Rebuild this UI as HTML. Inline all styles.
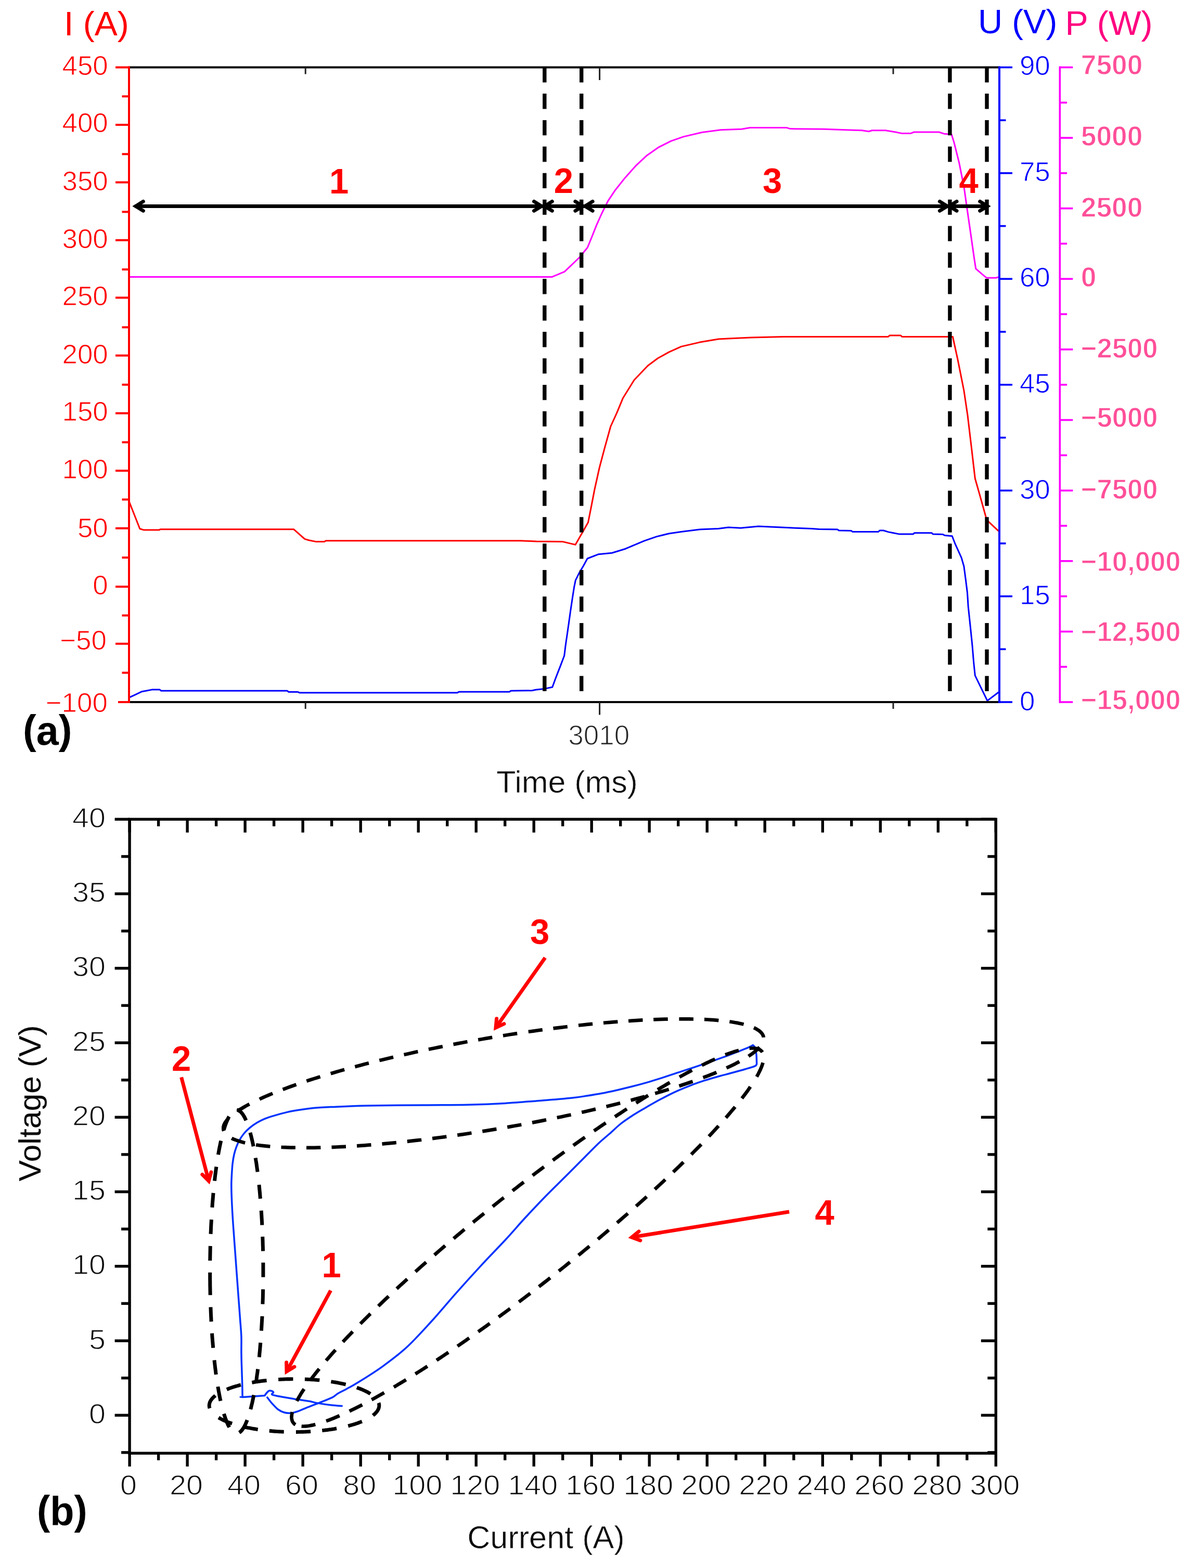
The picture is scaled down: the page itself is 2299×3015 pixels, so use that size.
<!DOCTYPE html>
<html lang="en"><head><meta charset="utf-8"><title>Figure</title>
<style>
html,body{margin:0;padding:0;background:#fff;}
svg{display:block;font-family:"Liberation Sans",sans-serif;filter:blur(0.5px);}
</style></head><body>
<svg xmlns="http://www.w3.org/2000/svg" width="2299" height="3015" viewBox="0 0 2299 3015">
<rect width="2299" height="3015" fill="#fff"/>
<g id="chart-a">
<polyline points="248.0,532.4 1061.4,532.4 1085.2,522.4 1113.8,495.0 1129.3,476.0 1137.6,455.7 1147.1,431.9 1156.7,410.5 1168.6,386.7 1182.9,365.2 1201.9,341.4 1223.3,317.6 1242.4,299.8 1266.2,283.1 1290.0,271.2 1313.8,262.9 1349.5,254.5 1385.2,249.8 1425.7,248.2 1441.8,245.6 1512.5,245.6 1518.9,247.6 1583.2,248.2 1625.0,249.8 1657.1,250.8 1670.0,252.7 1676.4,250.8 1702.1,250.8 1721.4,254.0 1734.3,256.6 1750.3,256.6 1756.8,254.0 1805.0,254.0 1814.6,257.2 1829.1,258.5 1833.9,273.9 1843.6,312.5 1853.2,360.7 1859.6,405.7 1866.1,450.7 1872.5,495.7 1875.7,516.6 1888.6,527.9 1896.6,534.3 1914.3,534.3 1920.0,532.7" fill="none" stroke="#ff00ff" stroke-width="3.0" stroke-linejoin="round" />
<polyline points="247.9,963.6 268.8,1016.7 276.7,1019.1 305.5,1019.1 308.1,1017.8 564.8,1017.8 585.7,1036.4 593.6,1038.7 606.7,1041.4 623.7,1041.4 626.3,1039.8 1000.0,1039.8 1031.0,1041.0 1081.0,1041.4 1106.0,1047.4 1119.0,1024.8 1130.5,1004.5 1136.9,972.4 1142.9,941.4 1152.4,898.6 1161.9,862.9 1173.8,820.0 1185.7,793.8 1197.6,765.2 1219.0,730.7 1245.2,703.3 1264.3,689.0 1285.7,677.1 1309.5,666.4 1345.2,658.1 1381.0,652.1 1400.0,651.0 1444.0,649.0 1506.0,647.4 1707.6,647.4 1710.0,645.0 1731.4,645.0 1733.8,647.4 1831.4,647.4 1841.0,691.4 1852.9,751.0 1860.0,798.6 1867.1,858.1 1874.3,920.0 1883.8,953.3 1895.7,996.2 1900.5,1003.3 1919.5,1021.2" fill="none" stroke="#ff0000" stroke-width="3.0" stroke-linejoin="round" />
<polyline points="249.6,1340.7 272.9,1329.7 281.1,1328.3 292.0,1326.1 307.1,1326.1 309.8,1328.3 552.2,1328.3 554.9,1330.5 572.7,1330.5 575.4,1331.9 879.4,1331.9 882.1,1330.3 979.3,1330.3 982.0,1328.3 1023.1,1327.8 1030.0,1326.3 1046.5,1324.4 1061.8,1321.2 1068.1,1304.0 1077.0,1281.1 1084.7,1260.8 1087.2,1240.5 1090.4,1218.9 1093.5,1197.3 1096.7,1174.4 1100.5,1149.0 1103.7,1128.6 1106.3,1115.9 1113.9,1100.7 1121.5,1088.0 1129.1,1074.0 1150.7,1065.7 1176.2,1063.3 1202.4,1055.2 1238.0,1040.2 1261.9,1031.9 1285.7,1026.0 1309.5,1022.4 1345.2,1018.1 1381.0,1016.4 1400.0,1014.0 1423.8,1015.3 1458.0,1012.0 1512.8,1014.6 1560.0,1016.4 1574.3,1017.6 1610.0,1018.1 1612.4,1020.0 1636.2,1020.5 1638.6,1022.4 1688.6,1022.4 1691.0,1020.0 1698.1,1020.0 1707.6,1022.9 1717.1,1024.8 1729.0,1027.1 1755.2,1027.1 1757.6,1024.8 1791.0,1024.8 1793.3,1027.1 1812.4,1027.6 1816.0,1029.5 1830.2,1030.7 1836.2,1046.2 1848.1,1072.4 1852.9,1089.0 1856.4,1115.2 1859.5,1140.0 1861.2,1166.7 1865.1,1203.3 1869.0,1241.3 1871.7,1274.0 1874.3,1298.9 1897.9,1347.4 1919.5,1331.0" fill="none" stroke="#0000ff" stroke-width="3.0" stroke-linejoin="round" />
<line x1="248.0" y1="129.5" x2="1921.0" y2="129.5" stroke="#000000" stroke-width="4" />
<line x1="248.0" y1="1350.0" x2="1921.0" y2="1350.0" stroke="#000000" stroke-width="4" />
<line x1="587.2" y1="129.5" x2="587.2" y2="142.5" stroke="#222" stroke-width="3" />
<line x1="587.2" y1="1350.0" x2="587.2" y2="1363.0" stroke="#222" stroke-width="3" />
<line x1="1152.6" y1="129.5" x2="1152.6" y2="154.0" stroke="#222" stroke-width="3" />
<line x1="1152.6" y1="1350.0" x2="1152.6" y2="1374.5" stroke="#222" stroke-width="3" />
<line x1="1717.0" y1="129.5" x2="1717.0" y2="142.5" stroke="#222" stroke-width="3" />
<line x1="1717.0" y1="1350.0" x2="1717.0" y2="1363.0" stroke="#222" stroke-width="3" />
<line x1="248.0" y1="127.5" x2="248.0" y2="1352.0" stroke="#ff0000" stroke-width="4" />
<line x1="222.0" y1="129.5" x2="248.0" y2="129.5" stroke="#ff0000" stroke-width="4" />
<text transform="translate(207.7,143.5) scale(1.005,1)" font-size="52.6" fill="#ff0000" text-anchor="end" font-weight="normal"  stroke="#fff" stroke-width="1.0" stroke-linejoin="round">450</text>
<line x1="222.0" y1="240.0" x2="248.0" y2="240.0" stroke="#ff0000" stroke-width="4" />
<text transform="translate(207.7,254.4) scale(1.005,1)" font-size="52.6" fill="#ff0000" text-anchor="end" font-weight="normal"  stroke="#fff" stroke-width="1.0" stroke-linejoin="round">400</text>
<line x1="222.0" y1="350.6" x2="248.0" y2="350.6" stroke="#ff0000" stroke-width="4" />
<text transform="translate(207.7,365.6) scale(1.005,1)" font-size="52.6" fill="#ff0000" text-anchor="end" font-weight="normal"  stroke="#fff" stroke-width="1.0" stroke-linejoin="round">350</text>
<line x1="222.0" y1="461.8" x2="248.0" y2="461.8" stroke="#ff0000" stroke-width="4" />
<text transform="translate(207.7,477.1) scale(1.005,1)" font-size="52.6" fill="#ff0000" text-anchor="end" font-weight="normal"  stroke="#fff" stroke-width="1.0" stroke-linejoin="round">300</text>
<line x1="222.0" y1="572.4" x2="248.0" y2="572.4" stroke="#ff0000" stroke-width="4" />
<text transform="translate(207.7,587.3) scale(1.005,1)" font-size="52.6" fill="#ff0000" text-anchor="end" font-weight="normal"  stroke="#fff" stroke-width="1.0" stroke-linejoin="round">250</text>
<line x1="222.0" y1="683.6" x2="248.0" y2="683.6" stroke="#ff0000" stroke-width="4" />
<text transform="translate(207.7,698.6) scale(1.005,1)" font-size="52.6" fill="#ff0000" text-anchor="end" font-weight="normal"  stroke="#fff" stroke-width="1.0" stroke-linejoin="round">200</text>
<line x1="222.0" y1="794.6" x2="248.0" y2="794.6" stroke="#ff0000" stroke-width="4" />
<text transform="translate(207.7,809.3) scale(1.005,1)" font-size="52.6" fill="#ff0000" text-anchor="end" font-weight="normal"  stroke="#fff" stroke-width="1.0" stroke-linejoin="round">150</text>
<line x1="222.0" y1="905.1" x2="248.0" y2="905.1" stroke="#ff0000" stroke-width="4" />
<text transform="translate(207.7,919.7) scale(1.005,1)" font-size="52.6" fill="#ff0000" text-anchor="end" font-weight="normal"  stroke="#fff" stroke-width="1.0" stroke-linejoin="round">100</text>
<line x1="222.0" y1="1015.8" x2="248.0" y2="1015.8" stroke="#ff0000" stroke-width="4" />
<text transform="translate(207.7,1033.3) scale(1.005,1)" font-size="52.6" fill="#ff0000" text-anchor="end" font-weight="normal"  stroke="#fff" stroke-width="1.0" stroke-linejoin="round">50</text>
<line x1="222.0" y1="1128.1" x2="248.0" y2="1128.1" stroke="#ff0000" stroke-width="4" />
<text transform="translate(207.7,1143.3) scale(1.005,1)" font-size="52.6" fill="#ff0000" text-anchor="end" font-weight="normal"  stroke="#fff" stroke-width="1.0" stroke-linejoin="round">0</text>
<line x1="222.0" y1="1237.8" x2="248.0" y2="1237.8" stroke="#ff0000" stroke-width="4" />
<text transform="translate(204.9,1248.6) scale(1.005,1)" font-size="52.6" fill="#ff0000" text-anchor="end" font-weight="normal"  stroke="#fff" stroke-width="1.0" stroke-linejoin="round">−50</text>
<line x1="227.0" y1="1350.0" x2="248.0" y2="1350.0" stroke="#ff0000" stroke-width="4" />
<text transform="translate(206.8,1369.0) scale(1.005,1)" font-size="52.6" fill="#ff0000" text-anchor="end" font-weight="normal"  stroke="#fff" stroke-width="1.0" stroke-linejoin="round">−100</text>
<line x1="234.5" y1="185.3" x2="248.0" y2="185.3" stroke="#ff0000" stroke-width="4" />
<line x1="234.5" y1="296.3" x2="248.0" y2="296.3" stroke="#ff0000" stroke-width="4" />
<line x1="234.5" y1="407.4" x2="248.0" y2="407.4" stroke="#ff0000" stroke-width="4" />
<line x1="234.5" y1="518.1" x2="248.0" y2="518.1" stroke="#ff0000" stroke-width="4" />
<line x1="234.5" y1="629.3" x2="248.0" y2="629.3" stroke="#ff0000" stroke-width="4" />
<line x1="234.5" y1="739.7" x2="248.0" y2="739.7" stroke="#ff0000" stroke-width="4" />
<line x1="234.5" y1="850.4" x2="248.0" y2="850.4" stroke="#ff0000" stroke-width="4" />
<line x1="234.5" y1="960.5" x2="248.0" y2="960.5" stroke="#ff0000" stroke-width="4" />
<line x1="234.5" y1="1072.1" x2="248.0" y2="1072.1" stroke="#ff0000" stroke-width="4" />
<line x1="234.5" y1="1183.4" x2="248.0" y2="1183.4" stroke="#ff0000" stroke-width="4" />
<line x1="234.5" y1="1293.6" x2="248.0" y2="1293.6" stroke="#ff0000" stroke-width="4" />
<line x1="1921.0" y1="127.5" x2="1921.0" y2="1352.0" stroke="#0000ff" stroke-width="4" />
<line x1="1921.0" y1="129.5" x2="1946.0" y2="129.5" stroke="#0000ff" stroke-width="3.6" />
<line x1="1921.0" y1="231.2" x2="1933.5" y2="231.2" stroke="#0000ff" stroke-width="3.6" />
<line x1="1921.0" y1="332.9" x2="1946.0" y2="332.9" stroke="#0000ff" stroke-width="3.6" />
<line x1="1921.0" y1="434.6" x2="1933.5" y2="434.6" stroke="#0000ff" stroke-width="3.6" />
<line x1="1921.0" y1="536.3" x2="1946.0" y2="536.3" stroke="#0000ff" stroke-width="3.6" />
<line x1="1921.0" y1="638.0" x2="1933.5" y2="638.0" stroke="#0000ff" stroke-width="3.6" />
<line x1="1921.0" y1="739.8" x2="1946.0" y2="739.8" stroke="#0000ff" stroke-width="3.6" />
<line x1="1921.0" y1="841.5" x2="1933.5" y2="841.5" stroke="#0000ff" stroke-width="3.6" />
<line x1="1921.0" y1="943.2" x2="1946.0" y2="943.2" stroke="#0000ff" stroke-width="3.6" />
<line x1="1921.0" y1="1044.9" x2="1933.5" y2="1044.9" stroke="#0000ff" stroke-width="3.6" />
<line x1="1921.0" y1="1146.6" x2="1946.0" y2="1146.6" stroke="#0000ff" stroke-width="3.6" />
<line x1="1921.0" y1="1248.3" x2="1933.5" y2="1248.3" stroke="#0000ff" stroke-width="3.6" />
<line x1="1921.0" y1="1350.0" x2="1946.0" y2="1350.0" stroke="#0000ff" stroke-width="3.6" />
<text transform="translate(1959.9,143.9) scale(1.005,1)" font-size="52.6" fill="#0000ff" text-anchor="start" font-weight="normal"  stroke="#fff" stroke-width="1.0" stroke-linejoin="round">90</text>
<text transform="translate(1959.9,347.5) scale(1.005,1)" font-size="52.6" fill="#0000ff" text-anchor="start" font-weight="normal"  stroke="#fff" stroke-width="1.0" stroke-linejoin="round">75</text>
<text transform="translate(1959.9,550.9) scale(1.005,1)" font-size="52.6" fill="#0000ff" text-anchor="start" font-weight="normal"  stroke="#fff" stroke-width="1.0" stroke-linejoin="round">60</text>
<text transform="translate(1959.9,754.6) scale(1.005,1)" font-size="52.6" fill="#0000ff" text-anchor="start" font-weight="normal"  stroke="#fff" stroke-width="1.0" stroke-linejoin="round">45</text>
<text transform="translate(1959.9,958.9) scale(1.005,1)" font-size="52.6" fill="#0000ff" text-anchor="start" font-weight="normal"  stroke="#fff" stroke-width="1.0" stroke-linejoin="round">30</text>
<text transform="translate(1959.9,1162.1) scale(1.005,1)" font-size="52.6" fill="#0000ff" text-anchor="start" font-weight="normal"  stroke="#fff" stroke-width="1.0" stroke-linejoin="round">15</text>
<text transform="translate(1959.9,1365.6) scale(1.005,1)" font-size="52.6" fill="#0000ff" text-anchor="start" font-weight="normal"  stroke="#fff" stroke-width="1.0" stroke-linejoin="round">0</text>
<line x1="2037.3" y1="127.5" x2="2037.3" y2="1352.0" stroke="#ff00ff" stroke-width="3.6" />
<line x1="2037.3" y1="129.5" x2="2062.3" y2="129.5" stroke="#ff00ff" stroke-width="3.6" />
<line x1="2037.3" y1="197.3" x2="2051.1" y2="197.3" stroke="#ff00ff" stroke-width="3.6" />
<line x1="2037.3" y1="265.1" x2="2062.3" y2="265.1" stroke="#ff00ff" stroke-width="3.6" />
<line x1="2037.3" y1="332.9" x2="2051.1" y2="332.9" stroke="#ff00ff" stroke-width="3.6" />
<line x1="2037.3" y1="400.7" x2="2062.3" y2="400.7" stroke="#ff00ff" stroke-width="3.6" />
<line x1="2037.3" y1="468.5" x2="2051.1" y2="468.5" stroke="#ff00ff" stroke-width="3.6" />
<line x1="2037.3" y1="536.3" x2="2062.3" y2="536.3" stroke="#ff00ff" stroke-width="3.6" />
<line x1="2037.3" y1="604.1" x2="2051.1" y2="604.1" stroke="#ff00ff" stroke-width="3.6" />
<line x1="2037.3" y1="671.9" x2="2062.3" y2="671.9" stroke="#ff00ff" stroke-width="3.6" />
<line x1="2037.3" y1="739.8" x2="2051.1" y2="739.8" stroke="#ff00ff" stroke-width="3.6" />
<line x1="2037.3" y1="807.6" x2="2062.3" y2="807.6" stroke="#ff00ff" stroke-width="3.6" />
<line x1="2037.3" y1="875.4" x2="2051.1" y2="875.4" stroke="#ff00ff" stroke-width="3.6" />
<line x1="2037.3" y1="943.2" x2="2062.3" y2="943.2" stroke="#ff00ff" stroke-width="3.6" />
<line x1="2037.3" y1="1011.0" x2="2051.1" y2="1011.0" stroke="#ff00ff" stroke-width="3.6" />
<line x1="2037.3" y1="1078.8" x2="2062.3" y2="1078.8" stroke="#ff00ff" stroke-width="3.6" />
<line x1="2037.3" y1="1146.6" x2="2051.1" y2="1146.6" stroke="#ff00ff" stroke-width="3.6" />
<line x1="2037.3" y1="1214.4" x2="2062.3" y2="1214.4" stroke="#ff00ff" stroke-width="3.6" />
<line x1="2037.3" y1="1282.2" x2="2051.1" y2="1282.2" stroke="#ff00ff" stroke-width="3.6" />
<line x1="2037.3" y1="1350.0" x2="2062.3" y2="1350.0" stroke="#ff00ff" stroke-width="3.6" />
<text transform="translate(2077.8,142.5) scale(1.01,1)" font-size="52.8" fill="#ff4f99" text-anchor="start" font-weight="bold"  stroke="#fff" stroke-width="1.3" stroke-linejoin="round">7500</text>
<text transform="translate(2077.8,280.4) scale(1.01,1)" font-size="52.8" fill="#ff4f99" text-anchor="start" font-weight="bold"  stroke="#fff" stroke-width="1.3" stroke-linejoin="round">5000</text>
<text transform="translate(2077.8,417.1) scale(1.01,1)" font-size="52.8" fill="#ff4f99" text-anchor="start" font-weight="bold"  stroke="#fff" stroke-width="1.3" stroke-linejoin="round">2500</text>
<text transform="translate(2077.8,550.9) scale(1.01,1)" font-size="52.8" fill="#ff4f99" text-anchor="start" font-weight="bold"  stroke="#fff" stroke-width="1.3" stroke-linejoin="round">0</text>
<text transform="translate(2077.8,687.7) scale(0.997,1)" font-size="52.8" fill="#ff4f99" text-anchor="start" font-weight="bold"  stroke="#fff" stroke-width="1.3" stroke-linejoin="round">−2500</text>
<text transform="translate(2077.8,821.1) scale(0.997,1)" font-size="52.8" fill="#ff4f99" text-anchor="start" font-weight="bold"  stroke="#fff" stroke-width="1.3" stroke-linejoin="round">−5000</text>
<text transform="translate(2077.8,958.5) scale(0.997,1)" font-size="52.8" fill="#ff4f99" text-anchor="start" font-weight="bold"  stroke="#fff" stroke-width="1.3" stroke-linejoin="round">−7500</text>
<text transform="translate(2077.8,1098.3) scale(0.997,1)" font-size="52.8" fill="#ff4f99" text-anchor="start" font-weight="bold"  stroke="#fff" stroke-width="1.3" stroke-linejoin="round">−10,000</text>
<text transform="translate(2077.8,1232.7) scale(0.997,1)" font-size="52.8" fill="#ff4f99" text-anchor="start" font-weight="bold"  stroke="#fff" stroke-width="1.3" stroke-linejoin="round">−12,500</text>
<text transform="translate(2077.8,1363.5) scale(0.997,1)" font-size="52.8" fill="#ff4f99" text-anchor="start" font-weight="bold"  stroke="#fff" stroke-width="1.3" stroke-linejoin="round">−15,000</text>
<text transform="translate(123.0,68.2) scale(1.033,1)" font-size="64" fill="#ff0000" text-anchor="start" font-weight="normal" >I (A)</text>
<text transform="translate(1880.0,64.0) scale(1.02,1)" font-size="64" fill="#0000ff" text-anchor="start" font-weight="normal" >U (V)</text>
<text transform="translate(2047.5,67.3) scale(1.03,1)" font-size="64.3" fill="#ff0080" text-anchor="start" font-weight="normal" >P (W)</text>
<line x1="1046.8" y1="129.2" x2="1046.8" y2="1330.0" stroke="#000000" stroke-width="7.4" stroke-dasharray="29.3 21.59"/>
<line x1="1117.7" y1="129.2" x2="1117.7" y2="1330.0" stroke="#000000" stroke-width="7.4" stroke-dasharray="29.3 21.59"/>
<line x1="1825.9" y1="129.2" x2="1825.9" y2="1330.0" stroke="#000000" stroke-width="7.4" stroke-dasharray="29.3 21.59"/>
<line x1="1897.0" y1="129.2" x2="1897.0" y2="1330.0" stroke="#000000" stroke-width="7.4" stroke-dasharray="29.3 21.59"/>
<line x1="259.3" y1="396.4" x2="1899.7" y2="396.4" stroke="#000000" stroke-width="7" />
<polyline points="275.3,387.4 260.9,396.4 275.3,405.4" fill="none" stroke="#000000" stroke-width="7" stroke-linecap="round" stroke-linejoin="miter"/>
<polyline points="1026.5,387.4 1040.9,396.4 1026.5,405.4" fill="none" stroke="#000000" stroke-width="7" stroke-linecap="round" stroke-linejoin="miter"/>
<polyline points="1061.3,387.4 1046.9,396.4 1061.3,405.4" fill="none" stroke="#000000" stroke-width="7" stroke-linecap="round" stroke-linejoin="miter"/>
<polyline points="1105.9,387.4 1120.3,396.4 1105.9,405.4" fill="none" stroke="#000000" stroke-width="7" stroke-linecap="round" stroke-linejoin="miter"/>
<polyline points="1139.1,387.4 1124.7,396.4 1139.1,405.4" fill="none" stroke="#000000" stroke-width="7" stroke-linecap="round" stroke-linejoin="miter"/>
<polyline points="1806.4,387.4 1820.8,396.4 1806.4,405.4" fill="none" stroke="#000000" stroke-width="7" stroke-linecap="round" stroke-linejoin="miter"/>
<polyline points="1839.0,387.4 1824.6,396.4 1839.0,405.4" fill="none" stroke="#000000" stroke-width="7" stroke-linecap="round" stroke-linejoin="miter"/>
<polyline points="1883.7,387.4 1898.1,396.4 1883.7,405.4" fill="none" stroke="#000000" stroke-width="7" stroke-linecap="round" stroke-linejoin="miter"/>
<text transform="translate(651.7,371.6) scale(0.97,1)" font-size="69" fill="#ff0000" text-anchor="middle" font-weight="bold" font-family="Liberation Sans">1</text>
<text transform="translate(1083.4,371.4) scale(0.97,1)" font-size="69" fill="#ff0000" text-anchor="middle" font-weight="bold" font-family="Liberation Sans">2</text>
<text transform="translate(1484.7,371.4) scale(0.97,1)" font-size="69" fill="#ff0000" text-anchor="middle" font-weight="bold" font-family="Liberation Sans">3</text>
<text transform="translate(1862.1,371.4) scale(0.97,1)" font-size="69" fill="#ff0000" text-anchor="middle" font-weight="bold" font-family="Liberation Sans">4</text>
<text transform="translate(44.0,1432.4) scale(0.99,1)" font-size="78" fill="#000000" text-anchor="start" font-weight="bold" ><tspan dy="-2.3">(</tspan><tspan dy="2.3">a</tspan><tspan dy="-2.3">)</tspan></text>
<text transform="translate(954.2,1524.0) scale(1.015,1)" font-size="60" fill="#0a0a0a" text-anchor="start" font-weight="normal"  stroke="#fff" stroke-width="0.6" stroke-linejoin="round">Time (ms)</text>
<text x="1151.2" y="1431.9" font-size="53" fill="#262626" text-anchor="middle" font-weight="normal"  stroke="#fff" stroke-width="1.3" stroke-linejoin="round">3010</text>
</g>
<g id="chart-b">
<path d="M658.6 2703.6C655.3 2703.3 646.7 2703.0 638.6 2702.1C630.5 2701.2 617.4 2699.2 610.0 2697.9C602.6 2696.6 601.7 2695.6 594.3 2694.3C586.9 2693.0 575.2 2691.6 565.7 2690.0C556.2 2688.4 544.2 2686.4 537.1 2685.0C530.0 2683.6 524.9 2682.9 523.0 2681.6C521.1 2680.3 525.6 2678.5 525.6 2677.4C525.6 2676.3 524.3 2675.3 522.9 2674.8C521.5 2674.3 519.0 2673.6 517.3 2674.2C515.6 2674.8 514.0 2676.9 512.5 2678.5C511.1 2680.1 509.2 2682.8 508.6 2683.6L508.6 2683.6L466.1 2686.4L466.1 2686.4C466.0 2682.5 466.0 2674.0 465.7 2662.9C465.4 2651.8 464.6 2630.5 464.3 2620.0C464.0 2609.5 464.0 2608.4 463.9 2600.0C463.8 2591.6 464.2 2579.8 463.9 2569.8C463.5 2559.8 462.6 2550.8 461.8 2540.0C461.0 2529.2 460.1 2516.7 459.2 2505.0C458.3 2493.3 457.4 2480.8 456.6 2470.0C455.8 2459.2 455.1 2450.0 454.4 2440.0C453.7 2430.0 452.9 2420.0 452.2 2410.0C451.5 2400.0 450.8 2391.7 450.0 2380.0C449.2 2368.3 448.0 2353.3 447.2 2340.0C446.4 2326.7 445.6 2310.8 445.2 2300.0C444.8 2289.2 444.7 2282.5 444.8 2275.0C444.9 2267.5 445.3 2261.3 445.7 2255.0C446.1 2248.7 446.4 2242.9 447.1 2237.1C447.8 2231.3 448.8 2225.2 450.0 2220.0C451.2 2214.8 452.6 2210.2 454.3 2205.7C456.0 2201.2 457.6 2197.2 460.0 2192.9C462.4 2188.6 465.3 2184.1 468.6 2180.0C471.9 2175.9 475.7 2172.2 480.0 2168.6C484.3 2165.0 489.5 2161.5 494.3 2158.6C499.1 2155.7 503.8 2153.4 508.6 2151.4C513.4 2149.4 515.8 2148.5 522.9 2146.4C530.0 2144.3 541.9 2140.7 551.4 2138.6C560.9 2136.5 570.5 2135.0 580.0 2133.6C589.5 2132.2 599.3 2130.8 608.6 2130.0C617.9 2129.2 619.3 2129.3 635.7 2128.6C652.1 2127.9 677.2 2126.6 707.0 2126.0C736.8 2125.4 782.1 2125.3 814.3 2125.0C846.5 2124.7 873.9 2124.9 900.0 2124.3C926.1 2123.7 947.2 2122.8 971.0 2121.4C994.8 2120.0 1021.5 2117.7 1043.0 2116.0C1064.5 2114.3 1085.7 2112.5 1100.0 2111.0C1114.3 2109.5 1119.1 2108.5 1128.6 2107.0C1138.1 2105.5 1147.6 2104.0 1157.1 2102.2C1166.6 2100.4 1176.2 2098.3 1185.7 2096.2C1195.2 2094.0 1204.8 2091.7 1214.3 2089.3C1223.8 2086.9 1233.4 2084.3 1242.9 2081.6C1252.4 2078.9 1261.9 2075.9 1271.4 2072.9C1280.9 2069.9 1290.5 2066.5 1300.0 2063.4C1309.5 2060.3 1318.8 2057.5 1328.6 2054.2C1338.4 2050.9 1348.4 2047.5 1359.0 2043.8C1369.6 2040.1 1382.5 2035.8 1392.4 2032.2C1402.3 2028.6 1411.0 2025.0 1418.6 2022.0C1426.2 2019.0 1433.1 2016.4 1437.9 2014.3C1442.7 2012.2 1445.7 2010.4 1447.3 2009.6L1447.3 2009.6C1448.0 2010.3 1450.1 2011.2 1451.2 2014.0C1452.3 2016.8 1453.2 2021.4 1453.8 2026.7C1454.4 2032.0 1454.5 2042.9 1454.6 2046.1L1454.6 2046.1C1454.0 2046.7 1454.8 2048.2 1451.3 2049.8C1447.8 2051.4 1441.4 2053.2 1433.5 2055.5C1425.6 2057.8 1412.1 2061.5 1403.7 2063.8C1395.3 2066.1 1391.1 2067.0 1382.9 2069.3C1374.7 2071.6 1363.8 2074.6 1354.3 2077.7C1344.8 2080.8 1335.2 2084.1 1325.7 2087.8C1316.2 2091.5 1306.6 2095.4 1297.1 2099.8C1287.6 2104.2 1278.1 2109.2 1268.6 2114.3C1259.1 2119.4 1249.0 2125.2 1240.0 2130.5C1231.0 2135.8 1222.1 2140.9 1214.3 2146.0C1206.5 2151.1 1200.1 2155.3 1192.9 2161.0C1185.8 2166.7 1178.6 2174.0 1171.4 2180.3C1164.2 2186.6 1159.5 2189.9 1150.0 2199.0C1140.5 2208.1 1126.2 2222.9 1114.3 2234.8C1102.4 2246.7 1090.5 2258.6 1078.6 2270.5C1066.7 2282.4 1054.8 2293.9 1042.9 2306.2C1031.0 2318.5 1018.9 2331.4 1007.1 2344.3C995.3 2357.2 985.6 2368.8 972.0 2383.5C958.4 2398.2 941.4 2415.5 925.7 2432.4C910.1 2449.3 894.0 2467.0 878.1 2484.8C862.2 2502.7 846.4 2522.1 830.5 2539.5C814.6 2556.9 798.8 2574.8 782.9 2589.5C767.0 2604.2 751.1 2616.1 735.2 2627.6C719.3 2639.1 699.0 2651.5 687.6 2658.6C676.2 2665.7 673.5 2666.7 667.1 2670.2C660.8 2673.7 654.2 2676.7 649.5 2679.5C644.8 2682.3 644.5 2684.2 638.6 2687.1C632.7 2690.0 622.6 2693.8 614.3 2697.1C606.0 2700.4 595.5 2704.3 588.6 2707.1C581.7 2709.8 577.9 2711.9 572.9 2713.6C567.9 2715.3 563.1 2716.8 558.6 2717.1C554.1 2717.4 549.8 2716.9 545.7 2715.7C541.7 2714.5 538.1 2712.8 534.3 2710.0C530.5 2707.2 525.8 2701.7 522.9 2698.6C520.0 2695.5 518.8 2693.6 517.1 2691.4C515.4 2689.2 513.6 2686.6 512.9 2685.7" fill="none" stroke="#0033ff" stroke-width="3.5" stroke-linejoin="round"/>
<line x1="460.7" y1="2686" x2="466" y2="2686.4" stroke="#0033ff" stroke-width="3"/>
<path d="M1421.3 2041.3 1417.5 2043.3 1413.5 2045.4 1409.4 2047.4 1405.2 2049.5 1400.8 2051.6 1396.2 2053.7 1391.6 2055.8 1386.8 2057.9 1381.8 2060.0 1376.8 2062.2 1371.6 2064.3 1366.3 2066.4 1360.8 2068.6 1355.2 2070.7 1349.5 2072.9 1343.7 2075.0 1337.8 2077.2 1331.7 2079.4 1325.5 2081.5 1319.2 2083.7 1312.8 2085.8 1306.3 2088.0 1299.7 2090.2 1292.9 2092.3 1286.1 2094.5 1279.2 2096.6 1272.1 2098.8 1265.0 2100.9 1257.7 2103.0 1250.4 2105.2 1243.0 2107.3 1235.5 2109.4 1227.9 2111.5 1220.2 2113.6 1212.4 2115.7 1204.6 2117.8 1196.7 2119.9 1188.7 2121.9 1180.6 2124.0 1172.4 2126.0 1164.2 2128.0 1155.9 2130.0 1147.6 2132.0 1139.2 2134.0 1130.7 2136.0 1122.2 2137.9 1113.6 2139.8 1105.0 2141.8 1096.4 2143.7 1087.6 2145.5 1078.9 2147.4 1070.1 2149.2 1061.3 2151.0 1052.4 2152.8 1043.5 2154.6 1034.6 2156.4 1025.6 2158.1 1016.7 2159.8 1007.7 2161.5 998.6 2163.2 989.6 2164.8 980.6 2166.4 971.5 2168.0 962.5 2169.6 953.4 2171.1 944.3 2172.6 935.3 2174.1 926.2 2175.5 917.2 2177.0 908.1 2178.3 899.1 2179.7 890.1 2181.1 881.1 2182.4 872.1 2183.6 863.1 2184.9 854.2 2186.1 845.3 2187.3 836.4 2188.4 827.6 2189.6 818.8 2190.6 810.1 2191.7 801.3 2192.7 792.7 2193.7 784.1 2194.7 775.5 2195.6 767.0 2196.5 758.5 2197.3 750.1 2198.1 741.7 2198.9 733.5 2199.7 725.2 2200.4 717.1 2201.1 709.0 2201.7 701.0 2202.3 693.1 2202.9 685.2 2203.4 677.5 2203.9 669.8 2204.4 662.2 2204.8 654.6 2205.2 647.2 2205.5 639.9 2205.8 632.6 2206.1 625.5 2206.3 618.4 2206.5 611.5 2206.7 604.7 2206.8 597.9 2206.9 591.3 2206.9 584.8 2206.9 578.3 2206.9 572.0 2206.9 565.9 2206.7 559.8 2206.6 553.8 2206.4 548.0 2206.2 542.3 2206.0 536.7 2205.7 531.3 2205.3 525.9 2205.0 520.7 2204.6 515.7 2204.1 510.7 2203.6 505.9 2203.1 501.2 2202.6 496.7 2202.0 492.3 2201.4 488.0 2200.7 483.9 2200.0 479.9 2199.3 476.1 2198.5 472.4 2197.7 468.9 2196.9 465.5 2196.0 462.2 2195.1 459.1 2194.2 456.2 2193.2 453.4 2192.2 450.7 2191.1 448.2 2190.1 445.8 2189.0 443.6 2187.8 441.6 2186.6 439.7 2185.4 438.0 2184.2 436.4 2183.0 435.0 2181.7 433.7 2180.3 432.6 2179.0 431.7 2177.6 430.9 2176.2 430.2 2174.7 429.7 2173.3 429.4 2171.8 429.3 2170.3 429.3 2168.7 429.4 2167.1 429.7 2165.5 430.2 2163.9 430.8 2162.3 431.6 2160.6 432.5 2158.9 433.6 2157.2 434.9 2155.4 436.3 2153.7 437.9 2151.9 439.6 2150.1 441.5 2148.2 443.5 2146.4 445.7 2144.5 448.1 2142.6 450.5 2140.7 453.2 2138.8 456.0 2136.9 458.9 2134.9 462.0 2132.9 465.3 2131.0 468.7 2129.0 472.2 2126.9 475.9 2124.9 479.7 2122.9 483.7 2120.8 487.8 2118.8 492.0 2116.7 496.4 2114.6 501.0 2112.5 505.6 2110.4 510.4 2108.3 515.4 2106.2 520.4 2104.0 525.6 2101.9 530.9 2099.8 536.4 2097.6 542.0 2095.5 547.7 2093.3 553.5 2091.2 559.4 2089.0 565.5 2086.8 571.7 2084.7 578.0 2082.5 584.4 2080.4 590.9 2078.2 597.5 2076.0 604.3 2073.9 611.1 2071.7 618.0 2069.6 625.1 2067.4 632.2 2065.3 639.5 2063.2 646.8 2061.0 654.2 2058.9 661.7 2056.8 669.3 2054.7 677.0 2052.6 684.8 2050.5 692.6 2048.4 700.5 2046.3 708.5 2044.3 716.6 2042.2 724.8 2040.2 733.0 2038.2 741.3 2036.2 749.6 2034.2 758.0 2032.2 766.5 2030.2 775.0 2028.3 783.6 2026.4 792.2 2024.4 800.8 2022.5 809.6 2020.7 818.3 2018.8 827.1 2017.0 835.9 2015.2 844.8 2013.4 853.7 2011.6 862.6 2009.8 871.6 2008.1 880.5 2006.4 889.5 2004.7 898.6 2003.0 907.6 2001.4 916.6 1999.8 925.7 1998.2 934.7 1996.6 943.8 1995.1 952.9 1993.6 961.9 1992.1 971.0 1990.7 980.0 1989.2 989.1 1987.9 998.1 1986.5 1007.1 1985.1 1016.1 1983.8 1025.1 1982.6 1034.1 1981.3 1043.0 1980.1 1051.9 1978.9 1060.8 1977.8 1069.6 1976.6 1078.4 1975.6 1087.1 1974.5 1095.9 1973.5 1104.5 1972.5 1113.1 1971.5 1121.7 1970.6 1130.2 1969.7 1138.7 1968.9 1147.1 1968.1 1155.5 1967.3 1163.7 1966.5 1172.0 1965.8 1180.1 1965.1 1188.2 1964.5 1196.2 1963.9 1204.1 1963.3 1212.0 1962.8 1219.7 1962.3 1227.4 1961.8 1235.0 1961.4 1242.6 1961.0 1250.0 1960.7 1257.3 1960.4 1264.6 1960.1 1271.7 1959.9 1278.8 1959.7 1285.7 1959.5 1292.5 1959.4 1299.3 1959.3 1305.9 1959.3 1312.4 1959.3 1318.9 1959.3 1325.2 1959.3 1331.3 1959.5 1337.4 1959.6 1343.4 1959.8 1349.2 1960.0 1354.9 1960.2 1360.5 1960.5 1365.9 1960.9 1371.3 1961.2 1376.5 1961.6 1381.5 1962.1 1386.5 1962.6 1391.3 1963.1 1396.0 1963.6 1400.5 1964.2 1404.9 1964.8 1409.2 1965.5 1413.3 1966.2 1417.3 1966.9 1421.1 1967.7 1424.8 1968.5 1428.3 1969.3 1431.7 1970.2 1435.0 1971.1 1438.1 1972.0 1441.0 1973.0 1443.8 1974.0 1446.5 1975.1 1449.0 1976.1 1451.4 1977.2 1453.6 1978.4 1455.6 1979.6 1457.5 1980.8 1459.2 1982.0 1460.8 1983.2 1462.2 1984.5 1463.5 1985.9 1464.6 1987.2 1465.5 1988.6 1466.3 1990.0 1467.0 1991.5 1467.5 1992.9 1467.8 1994.4 1467.9 1995.9 1467.9 1997.5 1467.8 1999.1 1467.5 2000.7 1467.0 2002.3 1466.4 2003.9 1465.6 2005.6 1464.7 2007.3 1463.6 2009.0 1462.3 2010.8 1460.9 2012.5 1459.3 2014.3 1457.6 2016.1 1455.7 2018.0 1453.7 2019.8 1451.5 2021.7 1449.1 2023.6 1446.7 2025.5 1444.0 2027.4 1441.2 2029.3 1438.3 2031.3 1435.2 2033.3 1431.9 2035.2 1428.5 2037.2 1425.0 2039.3Z" fill="none" stroke="#000" stroke-width="6.7" stroke-linejoin="round" stroke-dasharray="27.7 20.9 27.7 21.3 27.5 20.8 27.7 20.9 27.5 21.1 27.5 21.1 27.5 21.1 27.5 21.1 27.5 21.1 27.5 21.1 27.5 21.1 27.5 21.1 27.5 21.1 27.5 21.1 27.5 21.1 27.5 21.1 27.5 21.1 27.4 21.1 27.4 21.2 27.4 21.3 27.4 21.2 27.5 21.7 26.9 21.6 27.5 21.0 27.5 21.0 27.5 21.0 27.5 21.0 27.5 21.0 27.5 21.0 27.5 21.0 27.5 21.0 27.5 21.0 27.5 21.0 27.5 21.8 27.3 20.9 27.5 21.4 27.2 21.0 27.5 20.7 27.5 20.7 27.6 21.6 27.6 21.0 27.5 21.1 27.7 20.6 27.6 20.9 27.5 21.1"/>
<path d="M1466.2 2044.6 1465.4 2047.1 1464.5 2049.8 1463.4 2052.5 1462.2 2055.4 1460.9 2058.3 1459.4 2061.3 1457.8 2064.5 1456.1 2067.7 1454.2 2071.0 1452.2 2074.4 1450.1 2078.0 1447.8 2081.6 1445.4 2085.3 1442.8 2089.0 1440.2 2092.9 1437.4 2096.9 1434.4 2100.9 1431.4 2105.0 1428.2 2109.2 1424.9 2113.5 1421.5 2117.9 1417.9 2122.4 1414.2 2126.9 1410.4 2131.5 1406.5 2136.2 1402.4 2141.0 1398.3 2145.8 1394.0 2150.7 1389.6 2155.7 1385.1 2160.7 1380.5 2165.8 1375.7 2171.0 1370.9 2176.2 1366.0 2181.5 1360.9 2186.9 1355.7 2192.3 1350.5 2197.8 1345.1 2203.3 1339.6 2208.9 1334.0 2214.5 1328.4 2220.2 1322.6 2225.9 1316.8 2231.7 1310.8 2237.5 1304.8 2243.4 1298.6 2249.3 1292.4 2255.2 1286.1 2261.2 1279.7 2267.2 1273.3 2273.3 1266.7 2279.4 1260.1 2285.5 1253.4 2291.6 1246.7 2297.8 1239.8 2304.0 1232.9 2310.2 1225.9 2316.5 1218.9 2322.7 1211.8 2329.0 1204.6 2335.3 1197.4 2341.6 1190.1 2347.9 1182.8 2354.2 1175.4 2360.6 1168.0 2366.9 1160.5 2373.3 1153.0 2379.6 1145.5 2385.9 1137.9 2392.3 1130.2 2398.6 1122.5 2405.0 1114.8 2411.3 1107.1 2417.6 1099.3 2423.9 1091.5 2430.2 1083.7 2436.5 1075.9 2442.7 1068.0 2449.0 1060.2 2455.2 1052.3 2461.4 1044.4 2467.5 1036.5 2473.7 1028.6 2479.8 1020.6 2485.9 1012.7 2491.9 1004.8 2497.9 996.9 2503.9 989.0 2509.8 981.1 2515.7 973.2 2521.6 965.3 2527.4 957.4 2533.2 949.6 2538.9 941.8 2544.6 934.0 2550.2 926.2 2555.8 918.4 2561.3 910.7 2566.7 903.0 2572.1 895.3 2577.5 887.7 2582.8 880.1 2588.0 872.6 2593.2 865.1 2598.3 857.6 2603.3 850.2 2608.2 842.9 2613.1 835.5 2617.9 828.3 2622.7 821.1 2627.4 814.0 2632.0 806.9 2636.5 799.9 2640.9 792.9 2645.3 786.1 2649.6 779.2 2653.8 772.5 2657.9 765.8 2661.9 759.3 2665.8 752.7 2669.7 746.3 2673.5 740.0 2677.1 733.7 2680.7 727.5 2684.2 721.4 2687.6 715.4 2690.9 709.5 2694.1 703.7 2697.2 698.0 2700.3 692.3 2703.2 686.8 2706.0 681.4 2708.7 676.0 2711.3 670.8 2713.9 665.7 2716.3 660.7 2718.6 655.8 2720.8 651.0 2722.9 646.3 2724.9 641.7 2726.8 637.2 2728.6 632.9 2730.3 628.6 2731.9 624.5 2733.3 620.5 2734.7 616.7 2736.0 612.9 2737.1 609.3 2738.1 605.8 2739.1 602.4 2739.9 599.1 2740.6 596.0 2741.2 593.0 2741.7 590.1 2742.1 587.4 2742.3 584.7 2742.5 582.3 2742.5 579.9 2742.5 577.7 2742.3 575.6 2742.0 573.6 2741.6 571.8 2741.1 570.1 2740.5 568.6 2739.7 567.2 2738.9 565.9 2738.0 564.7 2736.9 563.7 2735.7 562.9 2734.5 562.1 2733.1 561.5 2731.6 561.1 2730.0 560.8 2728.3 560.6 2726.5 560.5 2724.6 560.6 2722.5 560.9 2720.4 561.2 2718.2 561.7 2715.8 562.4 2713.4 563.2 2710.9 564.1 2708.2 565.2 2705.5 566.4 2702.6 567.7 2699.7 569.2 2696.7 570.8 2693.5 572.5 2690.3 574.4 2687.0 576.4 2683.6 578.5 2680.0 580.8 2676.4 583.2 2672.7 585.8 2669.0 588.4 2665.1 591.2 2661.1 594.2 2657.1 597.2 2653.0 600.4 2648.8 603.7 2644.5 607.1 2640.1 610.7 2635.6 614.4 2631.1 618.2 2626.5 622.1 2621.8 626.2 2617.0 630.3 2612.2 634.6 2607.3 639.0 2602.3 643.5 2597.3 648.1 2592.2 652.9 2587.0 657.7 2581.8 662.6 2576.5 667.7 2571.1 672.9 2565.7 678.1 2560.2 683.5 2554.7 689.0 2549.1 694.6 2543.5 700.2 2537.8 706.0 2532.1 711.8 2526.3 717.8 2520.5 723.8 2514.6 730.0 2508.7 736.2 2502.8 742.5 2496.8 748.9 2490.8 755.3 2484.7 761.9 2478.6 768.5 2472.5 775.2 2466.4 781.9 2460.2 788.8 2454.0 795.7 2447.8 802.7 2441.5 809.7 2435.3 816.8 2429.0 824.0 2422.7 831.2 2416.4 838.5 2410.1 845.8 2403.8 853.2 2397.4 860.6 2391.1 868.1 2384.7 875.6 2378.4 883.1 2372.1 890.7 2365.7 898.4 2359.4 906.1 2353.0 913.8 2346.7 921.5 2340.4 929.3 2334.1 937.1 2327.8 944.9 2321.5 952.7 2315.3 960.6 2309.0 968.4 2302.8 976.3 2296.6 984.2 2290.5 992.1 2284.3 1000.0 2278.2 1008.0 2272.1 1015.9 2266.1 1023.8 2260.1 1031.7 2254.1 1039.6 2248.2 1047.5 2242.3 1055.4 2236.4 1063.3 2230.6 1071.2 2224.8 1079.0 2219.1 1086.8 2213.4 1094.6 2207.8 1102.4 2202.2 1110.2 2196.7 1117.9 2191.3 1125.6 2185.9 1133.3 2180.5 1140.9 2175.2 1148.5 2170.0 1156.0 2164.8 1163.5 2159.7 1171.0 2154.7 1178.4 2149.8 1185.7 2144.9 1193.1 2140.1 1200.3 2135.3 1207.5 2130.6 1214.6 2126.0 1221.7 2121.5 1228.7 2117.1 1235.7 2112.7 1242.5 2108.4 1249.4 2104.2 1256.1 2100.1 1262.8 2096.1 1269.3 2092.2 1275.9 2088.3 1282.3 2084.5 1288.6 2080.9 1294.9 2077.3 1301.1 2073.8 1307.2 2070.4 1313.2 2067.1 1319.1 2063.9 1324.9 2060.8 1330.6 2057.7 1336.3 2054.8 1341.8 2052.0 1347.2 2049.3 1352.6 2046.7 1357.8 2044.1 1362.9 2041.7 1367.9 2039.4 1372.8 2037.2 1377.6 2035.1 1382.3 2033.1 1386.9 2031.2 1391.4 2029.4 1395.7 2027.7 1400.0 2026.1 1404.1 2024.7 1408.1 2023.3 1411.9 2022.0 1415.7 2020.9 1419.3 2019.9 1422.8 2018.9 1426.2 2018.1 1429.5 2017.4 1432.6 2016.8 1435.6 2016.3 1438.5 2015.9 1441.2 2015.7 1443.9 2015.5 1446.3 2015.5 1448.7 2015.5 1450.9 2015.7 1453.0 2016.0 1455.0 2016.4 1456.8 2016.9 1458.5 2017.5 1460.0 2018.3 1461.4 2019.1 1462.7 2020.0 1463.9 2021.1 1464.9 2022.3 1465.7 2023.5 1466.5 2024.9 1467.1 2026.4 1467.5 2028.0 1467.8 2029.7 1468.0 2031.5 1468.1 2033.4 1468.0 2035.5 1467.7 2037.6 1467.4 2039.8 1466.9 2042.2Z" fill="none" stroke="#000" stroke-width="6.7" stroke-linejoin="round" stroke-dasharray="28.3 22.9 27.6 20.9 27.4 21.1 27.4 21.1 27.4 21.1 27.4 21.1 27.4 21.1 27.4 21.1 27.4 21.1 27.4 21.1 27.4 21.1 27.4 21.1 27.4 21.1 27.4 21.1 27.4 21.1 27.4 21.1 27.4 21.1 27.4 21.1 27.4 21.1 27.5 21.4 27.6 20.5 27.5 21.0 27.6 21.8 27.0 12.1 26.9 23.0 27.1 21.1 27.4 20.7 27.3 21.1 27.3 20.9 27.5 21.1 27.4 21.2 27.4 21.2 27.4 21.2 27.4 21.2 27.4 21.2 27.4 21.2 27.4 21.2 27.4 21.2 27.4 21.2 27.4 21.2 27.4 21.2 27.4 21.2 27.4 21.2 27.4 21.2 27.2 21.4 27.4 21.2 27.8 21.5 27.3 20.9 27.4 20.7"/>
<path d="M695.8 2733.2 694.1 2733.9 692.3 2734.6 690.5 2735.3 688.7 2736.0 686.8 2736.7 684.8 2737.3 682.9 2738.0 680.9 2738.6 678.8 2739.2 676.8 2739.8 674.7 2740.4 672.5 2741.0 670.4 2741.6 668.2 2742.2 665.9 2742.7 663.7 2743.3 661.4 2743.8 659.1 2744.3 656.7 2744.8 654.3 2745.3 651.9 2745.8 649.5 2746.2 647.0 2746.7 644.6 2747.1 642.1 2747.6 639.5 2748.0 637.0 2748.4 634.4 2748.7 631.8 2749.1 629.2 2749.5 626.6 2749.8 623.9 2750.1 621.2 2750.4 618.5 2750.7 615.8 2751.0 613.1 2751.3 610.4 2751.5 607.6 2751.8 604.9 2752.0 602.1 2752.2 599.3 2752.4 596.5 2752.6 593.7 2752.7 590.9 2752.9 588.1 2753.0 585.3 2753.1 582.4 2753.2 579.6 2753.3 576.8 2753.4 573.9 2753.4 571.1 2753.5 568.2 2753.5 565.4 2753.5 562.5 2753.5 559.7 2753.5 556.8 2753.4 554.0 2753.4 551.1 2753.3 548.3 2753.2 545.5 2753.1 542.6 2753.0 539.8 2752.9 537.0 2752.7 534.2 2752.6 531.4 2752.4 528.6 2752.2 525.9 2752.0 523.1 2751.8 520.4 2751.5 517.6 2751.3 514.9 2751.0 512.2 2750.7 509.5 2750.4 506.9 2750.1 504.2 2749.8 501.6 2749.4 499.0 2749.1 496.4 2748.7 493.8 2748.3 491.3 2747.9 488.7 2747.5 486.2 2747.1 483.7 2746.7 481.3 2746.2 478.9 2745.7 476.5 2745.3 474.1 2744.8 471.7 2744.3 469.4 2743.7 467.1 2743.2 464.9 2742.7 462.6 2742.1 460.4 2741.6 458.3 2741.0 456.1 2740.4 454.0 2739.8 452.0 2739.2 449.9 2738.5 447.9 2737.9 446.0 2737.3 444.1 2736.6 442.2 2735.9 440.3 2735.3 438.5 2734.6 436.7 2733.9 435.0 2733.2 433.3 2732.5 431.7 2731.7 430.0 2731.0 428.5 2730.3 426.9 2729.5 425.5 2728.8 424.0 2728.0 422.6 2727.2 421.3 2726.4 419.9 2725.6 418.7 2724.8 417.4 2724.0 416.3 2723.2 415.1 2722.4 414.0 2721.6 413.0 2720.8 412.0 2719.9 411.1 2719.1 410.2 2718.3 409.3 2717.4 408.5 2716.6 407.7 2715.7 407.0 2714.8 406.4 2714.0 405.7 2713.1 405.2 2712.2 404.7 2711.4 404.2 2710.5 403.8 2709.6 403.4 2708.7 403.1 2707.8 402.8 2707.0 402.6 2706.1 402.4 2705.2 402.3 2704.3 402.2 2703.4 402.2 2702.5 402.2 2701.6 402.3 2700.7 402.4 2699.8 402.6 2699.0 402.8 2698.1 403.1 2697.2 403.4 2696.3 403.8 2695.4 404.2 2694.5 404.7 2693.7 405.2 2692.8 405.8 2691.9 406.4 2691.1 407.1 2690.2 407.8 2689.3 408.6 2688.5 409.4 2687.6 410.2 2686.8 411.1 2685.9 412.1 2685.1 413.1 2684.3 414.1 2683.4 415.2 2682.6 416.4 2681.8 417.6 2681.0 418.8 2680.2 420.1 2679.4 421.4 2678.6 422.7 2677.8 424.1 2677.0 425.6 2676.3 427.1 2675.5 428.6 2674.8 430.2 2674.0 431.8 2673.3 433.5 2672.6 435.2 2671.9 436.9 2671.2 438.7 2670.5 440.5 2669.8 442.3 2669.1 444.2 2668.4 446.2 2667.8 448.1 2667.1 450.1 2666.5 452.2 2665.9 454.2 2665.3 456.3 2664.7 458.5 2664.1 460.6 2663.5 462.8 2662.9 465.1 2662.4 467.3 2661.8 469.6 2661.3 471.9 2660.8 474.3 2660.3 476.7 2659.8 479.1 2659.3 481.5 2658.9 484.0 2658.4 486.4 2658.0 488.9 2657.5 491.5 2657.1 494.0 2656.7 496.6 2656.4 499.2 2656.0 501.8 2655.6 504.4 2655.3 507.1 2655.0 509.8 2654.7 512.5 2654.4 515.2 2654.1 517.9 2653.8 520.6 2653.6 523.4 2653.3 526.1 2653.1 528.9 2652.9 531.7 2652.7 534.5 2652.5 537.3 2652.4 540.1 2652.2 542.9 2652.1 545.7 2652.0 548.6 2651.9 551.4 2651.8 554.2 2651.7 557.1 2651.7 559.9 2651.6 562.8 2651.6 565.6 2651.6 568.5 2651.6 571.3 2651.6 574.2 2651.7 577.0 2651.7 579.9 2651.8 582.7 2651.9 585.5 2652.0 588.4 2652.1 591.2 2652.2 594.0 2652.4 596.8 2652.5 599.6 2652.7 602.4 2652.9 605.1 2653.1 607.9 2653.3 610.6 2653.6 613.4 2653.8 616.1 2654.1 618.8 2654.4 621.5 2654.7 624.1 2655.0 626.8 2655.3 629.4 2655.7 632.0 2656.0 634.6 2656.4 637.2 2656.8 639.7 2657.2 642.3 2657.6 644.8 2658.0 647.3 2658.4 649.7 2658.9 652.1 2659.4 654.5 2659.8 656.9 2660.3 659.3 2660.8 661.6 2661.4 663.9 2661.9 666.1 2662.4 668.4 2663.0 670.6 2663.5 672.7 2664.1 674.9 2664.7 677.0 2665.3 679.0 2665.9 681.1 2666.6 683.1 2667.2 685.0 2667.8 686.9 2668.5 688.8 2669.2 690.7 2669.8 692.5 2670.5 694.3 2671.2 696.0 2671.9 697.7 2672.6 699.3 2673.4 701.0 2674.1 702.5 2674.8 704.1 2675.6 705.5 2676.3 707.0 2677.1 708.4 2677.9 709.7 2678.7 711.1 2679.5 712.3 2680.3 713.6 2681.1 714.7 2681.9 715.9 2682.7 717.0 2683.5 718.0 2684.3 719.0 2685.2 719.9 2686.0 720.8 2686.8 721.7 2687.7 722.5 2688.5 723.3 2689.4 724.0 2690.3 724.6 2691.1 725.3 2692.0 725.8 2692.9 726.3 2693.7 726.8 2694.6 727.2 2695.5 727.6 2696.4 727.9 2697.3 728.2 2698.1 728.4 2699.0 728.6 2699.9 728.7 2700.8 728.8 2701.7 728.8 2702.6 728.8 2703.5 728.7 2704.4 728.6 2705.3 728.4 2706.1 728.2 2707.0 727.9 2707.9 727.6 2708.8 727.2 2709.7 726.8 2710.6 726.3 2711.4 725.8 2712.3 725.2 2713.2 724.6 2714.0 723.9 2714.9 723.2 2715.8 722.4 2716.6 721.6 2717.5 720.8 2718.3 719.9 2719.2 718.9 2720.0 717.9 2720.8 716.9 2721.7 715.8 2722.5 714.6 2723.3 713.4 2724.1 712.2 2724.9 710.9 2725.7 709.6 2726.5 708.3 2727.3 706.9 2728.1 705.4 2728.8 703.9 2729.6 702.4 2730.3 700.8 2731.1 699.2 2731.8 697.5 2732.5Z" fill="none" stroke="#000" stroke-width="6.9" stroke-linejoin="round" stroke-dasharray="28.0 22.7 28.1 22.2 28.2 23.2 28.1 22.2 28.3 22.6 28.5 25.1 28.8 24.9 28.4 21.9 28.6 22.6 28.3 22.5 28.5 22.2 28.8 22.1 28.8 24.1 28.4 24.3"/>
<path d="M505.6 2479.9 505.5 2485.3 505.4 2490.7 505.3 2496.0 505.1 2501.4 504.9 2506.7 504.8 2512.0 504.6 2517.3 504.3 2522.6 504.1 2527.8 503.9 2533.0 503.6 2538.2 503.3 2543.4 503.0 2548.5 502.7 2553.6 502.4 2558.7 502.1 2563.8 501.7 2568.8 501.4 2573.7 501.0 2578.6 500.6 2583.5 500.2 2588.4 499.8 2593.2 499.4 2597.9 498.9 2602.6 498.5 2607.3 498.0 2611.9 497.5 2616.4 497.0 2620.9 496.5 2625.4 496.0 2629.8 495.4 2634.1 494.9 2638.4 494.3 2642.6 493.7 2646.8 493.2 2650.9 492.6 2654.9 492.0 2658.9 491.3 2662.8 490.7 2666.7 490.1 2670.4 489.4 2674.2 488.8 2677.8 488.1 2681.4 487.4 2684.9 486.7 2688.3 486.0 2691.6 485.3 2694.9 484.6 2698.1 483.8 2701.2 483.1 2704.3 482.4 2707.2 481.6 2710.1 480.8 2712.9 480.1 2715.6 479.3 2718.3 478.5 2720.8 477.7 2723.3 476.9 2725.7 476.1 2728.0 475.3 2730.2 474.5 2732.3 473.6 2734.4 472.8 2736.3 472.0 2738.2 471.1 2740.0 470.3 2741.7 469.4 2743.3 468.5 2744.8 467.7 2746.2 466.8 2747.5 466.0 2748.7 465.1 2749.9 464.2 2750.9 463.3 2751.9 462.4 2752.7 461.6 2753.5 460.7 2754.1 459.8 2754.7 458.9 2755.2 458.0 2755.6 457.1 2755.9 456.2 2756.1 455.3 2756.2 454.4 2756.2 453.5 2756.1 452.7 2755.9 451.8 2755.7 450.9 2755.3 450.0 2754.8 449.1 2754.3 448.2 2753.6 447.3 2752.9 446.4 2752.0 445.6 2751.1 444.7 2750.1 443.8 2748.9 442.9 2747.7 442.1 2746.4 441.2 2745.0 440.4 2743.5 439.5 2742.0 438.6 2740.3 437.8 2738.5 437.0 2736.7 436.1 2734.7 435.3 2732.7 434.5 2730.6 433.7 2728.4 432.9 2726.1 432.1 2723.7 431.3 2721.3 430.5 2718.8 429.7 2716.1 428.9 2713.4 428.1 2710.6 427.4 2707.8 426.6 2704.8 425.9 2701.8 425.2 2698.7 424.4 2695.5 423.7 2692.2 423.0 2688.9 422.3 2685.5 421.6 2682.0 421.0 2678.5 420.3 2674.8 419.7 2671.1 419.0 2667.4 418.4 2663.5 417.8 2659.6 417.1 2655.7 416.5 2651.6 416.0 2647.6 415.4 2643.4 414.8 2639.2 414.3 2634.9 413.7 2630.6 413.2 2626.2 412.7 2621.8 412.2 2617.3 411.7 2612.7 411.2 2608.1 410.8 2603.5 410.3 2598.8 409.9 2594.0 409.5 2589.2 409.1 2584.4 408.7 2579.5 408.3 2574.6 407.9 2569.7 407.6 2564.7 407.2 2559.6 406.9 2554.6 406.6 2549.5 406.3 2544.4 406.0 2539.2 405.8 2534.0 405.5 2528.8 405.3 2523.6 405.1 2518.3 404.9 2513.0 404.7 2507.7 404.5 2502.4 404.4 2497.0 404.2 2491.7 404.1 2486.3 404.0 2480.9 403.9 2475.5 403.8 2470.1 403.8 2464.7 403.7 2459.3 403.7 2453.8 403.7 2448.4 403.7 2443.0 403.7 2437.6 403.7 2432.1 403.7 2426.7 403.8 2421.3 403.9 2415.9 404.0 2410.5 404.1 2405.1 404.2 2399.7 404.3 2394.4 404.5 2389.0 404.7 2383.7 404.8 2378.4 405.0 2373.1 405.3 2367.8 405.5 2362.6 405.7 2357.4 406.0 2352.2 406.3 2347.0 406.6 2341.9 406.9 2336.8 407.2 2331.7 407.5 2326.6 407.9 2321.6 408.2 2316.7 408.6 2311.8 409.0 2306.9 409.4 2302.0 409.8 2297.2 410.2 2292.5 410.7 2287.8 411.1 2283.1 411.6 2278.5 412.1 2274.0 412.6 2269.5 413.1 2265.0 413.6 2260.6 414.2 2256.3 414.7 2252.0 415.3 2247.8 415.9 2243.6 416.4 2239.5 417.0 2235.5 417.6 2231.5 418.3 2227.6 418.9 2223.7 419.5 2220.0 420.2 2216.2 420.8 2212.6 421.5 2209.0 422.2 2205.5 422.9 2202.1 423.6 2198.8 424.3 2195.5 425.0 2192.3 425.8 2189.2 426.5 2186.1 427.2 2183.2 428.0 2180.3 428.8 2177.5 429.5 2174.8 430.3 2172.1 431.1 2169.6 431.9 2167.1 432.7 2164.7 433.5 2162.4 434.3 2160.2 435.1 2158.1 436.0 2156.0 436.8 2154.1 437.6 2152.2 438.5 2150.4 439.3 2148.7 440.2 2147.1 441.1 2145.6 441.9 2144.2 442.8 2142.9 443.6 2141.7 444.5 2140.5 445.4 2139.5 446.3 2138.5 447.2 2137.7 448.0 2136.9 448.9 2136.3 449.8 2135.7 450.7 2135.2 451.6 2134.8 452.5 2134.5 453.4 2134.3 454.3 2134.2 455.2 2134.2 456.1 2134.3 456.9 2134.5 457.8 2134.7 458.7 2135.1 459.6 2135.6 460.5 2136.1 461.4 2136.8 462.3 2137.5 463.2 2138.4 464.0 2139.3 464.9 2140.3 465.8 2141.5 466.7 2142.7 467.5 2144.0 468.4 2145.4 469.2 2146.9 470.1 2148.4 471.0 2150.1 471.8 2151.9 472.6 2153.7 473.5 2155.7 474.3 2157.7 475.1 2159.8 475.9 2162.0 476.7 2164.3 477.5 2166.7 478.3 2169.1 479.1 2171.6 479.9 2174.3 480.7 2177.0 481.5 2179.8 482.2 2182.6 483.0 2185.6 483.7 2188.6 484.4 2191.7 485.2 2194.9 485.9 2198.2 486.6 2201.5 487.3 2204.9 488.0 2208.4 488.6 2211.9 489.3 2215.6 489.9 2219.3 490.6 2223.0 491.2 2226.9 491.8 2230.8 492.5 2234.7 493.1 2238.8 493.6 2242.8 494.2 2247.0 494.8 2251.2 495.3 2255.5 495.9 2259.8 496.4 2264.2 496.9 2268.6 497.4 2273.1 497.9 2277.7 498.4 2282.3 498.8 2286.9 499.3 2291.6 499.7 2296.4 500.1 2301.2 500.5 2306.0 500.9 2310.9 501.3 2315.8 501.7 2320.7 502.0 2325.7 502.4 2330.8 502.7 2335.8 503.0 2340.9 503.3 2346.0 503.6 2351.2 503.8 2356.4 504.1 2361.6 504.3 2366.8 504.5 2372.1 504.7 2377.4 504.9 2382.7 505.1 2388.0 505.2 2393.4 505.4 2398.7 505.5 2404.1 505.6 2409.5 505.7 2414.9 505.8 2420.3 505.8 2425.7 505.9 2431.1 505.9 2436.6 505.9 2442.0 505.9 2447.4 505.9 2452.8 505.9 2458.3 505.9 2463.7 505.8 2469.1 505.7 2474.5Z" fill="none" stroke="#000" stroke-width="7.0" stroke-linejoin="round" stroke-dasharray="27.8 23.2 27.9 23.1 27.9 23.1 27.5 23.0 28.2 21.6 29.1 24.4 27.9 25.6 28.1 23.5 27.9 23.7 28.0 22.6 27.9 23.1 43.5 22.8 28.1 23.1 27.9 23.3 27.9 23.3 27.4 23.5 27.4 21.3 27.9 20.7 27.9 24.8 27.1 22.7 27.0 24.9 27.0 23.0 27.9 22.1 27.9 22.1 28.1 23.3"/>
<rect x="249.1" y="1575.3" width="1665.2" height="1219.0" fill="none" stroke="#000" stroke-width="5.4"/>
<line x1="249.1" y1="2794.3" x2="249.1" y2="2819.8" stroke="#000000" stroke-width="5.4" />
<line x1="249.1" y1="1575.3" x2="249.1" y2="1600.8" stroke="#000000" stroke-width="5.4" />
<text transform="translate(247.1,2874.3) scale(1.085,1)" font-size="53" fill="#0c0c0c" text-anchor="middle" font-weight="normal"  stroke="#fff" stroke-width="1.3" stroke-linejoin="round">0</text>
<line x1="304.6" y1="2794.3" x2="304.6" y2="2807.8" stroke="#000000" stroke-width="5.4" />
<line x1="304.6" y1="1575.3" x2="304.6" y2="1588.8" stroke="#000000" stroke-width="5.4" />
<line x1="360.1" y1="2794.3" x2="360.1" y2="2819.8" stroke="#000000" stroke-width="5.4" />
<line x1="360.1" y1="1575.3" x2="360.1" y2="1600.8" stroke="#000000" stroke-width="5.4" />
<text transform="translate(358.1,2874.3) scale(1.085,1)" font-size="53" fill="#0c0c0c" text-anchor="middle" font-weight="normal"  stroke="#fff" stroke-width="1.3" stroke-linejoin="round">20</text>
<line x1="415.6" y1="2794.3" x2="415.6" y2="2807.8" stroke="#000000" stroke-width="5.4" />
<line x1="415.6" y1="1575.3" x2="415.6" y2="1588.8" stroke="#000000" stroke-width="5.4" />
<line x1="471.1" y1="2794.3" x2="471.1" y2="2819.8" stroke="#000000" stroke-width="5.4" />
<line x1="471.1" y1="1575.3" x2="471.1" y2="1600.8" stroke="#000000" stroke-width="5.4" />
<text transform="translate(469.1,2874.3) scale(1.085,1)" font-size="53" fill="#0c0c0c" text-anchor="middle" font-weight="normal"  stroke="#fff" stroke-width="1.3" stroke-linejoin="round">40</text>
<line x1="526.6" y1="2794.3" x2="526.6" y2="2807.8" stroke="#000000" stroke-width="5.4" />
<line x1="526.6" y1="1575.3" x2="526.6" y2="1588.8" stroke="#000000" stroke-width="5.4" />
<line x1="582.1" y1="2794.3" x2="582.1" y2="2819.8" stroke="#000000" stroke-width="5.4" />
<line x1="582.1" y1="1575.3" x2="582.1" y2="1600.8" stroke="#000000" stroke-width="5.4" />
<text transform="translate(580.1,2874.3) scale(1.085,1)" font-size="53" fill="#0c0c0c" text-anchor="middle" font-weight="normal"  stroke="#fff" stroke-width="1.3" stroke-linejoin="round">60</text>
<line x1="637.6" y1="2794.3" x2="637.6" y2="2807.8" stroke="#000000" stroke-width="5.4" />
<line x1="637.6" y1="1575.3" x2="637.6" y2="1588.8" stroke="#000000" stroke-width="5.4" />
<line x1="693.2" y1="2794.3" x2="693.2" y2="2819.8" stroke="#000000" stroke-width="5.4" />
<line x1="693.2" y1="1575.3" x2="693.2" y2="1600.8" stroke="#000000" stroke-width="5.4" />
<text transform="translate(691.2,2874.3) scale(1.085,1)" font-size="53" fill="#0c0c0c" text-anchor="middle" font-weight="normal"  stroke="#fff" stroke-width="1.3" stroke-linejoin="round">80</text>
<line x1="748.7" y1="2794.3" x2="748.7" y2="2807.8" stroke="#000000" stroke-width="5.4" />
<line x1="748.7" y1="1575.3" x2="748.7" y2="1588.8" stroke="#000000" stroke-width="5.4" />
<line x1="804.2" y1="2794.3" x2="804.2" y2="2819.8" stroke="#000000" stroke-width="5.4" />
<line x1="804.2" y1="1575.3" x2="804.2" y2="1600.8" stroke="#000000" stroke-width="5.4" />
<text transform="translate(802.2,2874.3) scale(1.085,1)" font-size="53" fill="#0c0c0c" text-anchor="middle" font-weight="normal"  stroke="#fff" stroke-width="1.3" stroke-linejoin="round">100</text>
<line x1="859.7" y1="2794.3" x2="859.7" y2="2807.8" stroke="#000000" stroke-width="5.4" />
<line x1="859.7" y1="1575.3" x2="859.7" y2="1588.8" stroke="#000000" stroke-width="5.4" />
<line x1="915.2" y1="2794.3" x2="915.2" y2="2819.8" stroke="#000000" stroke-width="5.4" />
<line x1="915.2" y1="1575.3" x2="915.2" y2="1600.8" stroke="#000000" stroke-width="5.4" />
<text transform="translate(913.2,2874.3) scale(1.085,1)" font-size="53" fill="#0c0c0c" text-anchor="middle" font-weight="normal"  stroke="#fff" stroke-width="1.3" stroke-linejoin="round">120</text>
<line x1="970.7" y1="2794.3" x2="970.7" y2="2807.8" stroke="#000000" stroke-width="5.4" />
<line x1="970.7" y1="1575.3" x2="970.7" y2="1588.8" stroke="#000000" stroke-width="5.4" />
<line x1="1026.2" y1="2794.3" x2="1026.2" y2="2819.8" stroke="#000000" stroke-width="5.4" />
<line x1="1026.2" y1="1575.3" x2="1026.2" y2="1600.8" stroke="#000000" stroke-width="5.4" />
<text transform="translate(1024.2,2874.3) scale(1.085,1)" font-size="53" fill="#0c0c0c" text-anchor="middle" font-weight="normal"  stroke="#fff" stroke-width="1.3" stroke-linejoin="round">140</text>
<line x1="1081.7" y1="2794.3" x2="1081.7" y2="2807.8" stroke="#000000" stroke-width="5.4" />
<line x1="1081.7" y1="1575.3" x2="1081.7" y2="1588.8" stroke="#000000" stroke-width="5.4" />
<line x1="1137.2" y1="2794.3" x2="1137.2" y2="2819.8" stroke="#000000" stroke-width="5.4" />
<line x1="1137.2" y1="1575.3" x2="1137.2" y2="1600.8" stroke="#000000" stroke-width="5.4" />
<text transform="translate(1135.2,2874.3) scale(1.085,1)" font-size="53" fill="#0c0c0c" text-anchor="middle" font-weight="normal"  stroke="#fff" stroke-width="1.3" stroke-linejoin="round">160</text>
<line x1="1192.7" y1="2794.3" x2="1192.7" y2="2807.8" stroke="#000000" stroke-width="5.4" />
<line x1="1192.7" y1="1575.3" x2="1192.7" y2="1588.8" stroke="#000000" stroke-width="5.4" />
<line x1="1248.2" y1="2794.3" x2="1248.2" y2="2819.8" stroke="#000000" stroke-width="5.4" />
<line x1="1248.2" y1="1575.3" x2="1248.2" y2="1600.8" stroke="#000000" stroke-width="5.4" />
<text transform="translate(1246.2,2874.3) scale(1.085,1)" font-size="53" fill="#0c0c0c" text-anchor="middle" font-weight="normal"  stroke="#fff" stroke-width="1.3" stroke-linejoin="round">180</text>
<line x1="1303.7" y1="2794.3" x2="1303.7" y2="2807.8" stroke="#000000" stroke-width="5.4" />
<line x1="1303.7" y1="1575.3" x2="1303.7" y2="1588.8" stroke="#000000" stroke-width="5.4" />
<line x1="1359.2" y1="2794.3" x2="1359.2" y2="2819.8" stroke="#000000" stroke-width="5.4" />
<line x1="1359.2" y1="1575.3" x2="1359.2" y2="1600.8" stroke="#000000" stroke-width="5.4" />
<text transform="translate(1357.2,2874.3) scale(1.085,1)" font-size="53" fill="#0c0c0c" text-anchor="middle" font-weight="normal"  stroke="#fff" stroke-width="1.3" stroke-linejoin="round">200</text>
<line x1="1414.7" y1="2794.3" x2="1414.7" y2="2807.8" stroke="#000000" stroke-width="5.4" />
<line x1="1414.7" y1="1575.3" x2="1414.7" y2="1588.8" stroke="#000000" stroke-width="5.4" />
<line x1="1470.2" y1="2794.3" x2="1470.2" y2="2819.8" stroke="#000000" stroke-width="5.4" />
<line x1="1470.2" y1="1575.3" x2="1470.2" y2="1600.8" stroke="#000000" stroke-width="5.4" />
<text transform="translate(1468.2,2874.3) scale(1.085,1)" font-size="53" fill="#0c0c0c" text-anchor="middle" font-weight="normal"  stroke="#fff" stroke-width="1.3" stroke-linejoin="round">220</text>
<line x1="1525.8" y1="2794.3" x2="1525.8" y2="2807.8" stroke="#000000" stroke-width="5.4" />
<line x1="1525.8" y1="1575.3" x2="1525.8" y2="1588.8" stroke="#000000" stroke-width="5.4" />
<line x1="1581.3" y1="2794.3" x2="1581.3" y2="2819.8" stroke="#000000" stroke-width="5.4" />
<line x1="1581.3" y1="1575.3" x2="1581.3" y2="1600.8" stroke="#000000" stroke-width="5.4" />
<text transform="translate(1579.3,2874.3) scale(1.085,1)" font-size="53" fill="#0c0c0c" text-anchor="middle" font-weight="normal"  stroke="#fff" stroke-width="1.3" stroke-linejoin="round">240</text>
<line x1="1636.8" y1="2794.3" x2="1636.8" y2="2807.8" stroke="#000000" stroke-width="5.4" />
<line x1="1636.8" y1="1575.3" x2="1636.8" y2="1588.8" stroke="#000000" stroke-width="5.4" />
<line x1="1692.3" y1="2794.3" x2="1692.3" y2="2819.8" stroke="#000000" stroke-width="5.4" />
<line x1="1692.3" y1="1575.3" x2="1692.3" y2="1600.8" stroke="#000000" stroke-width="5.4" />
<text transform="translate(1690.3,2874.3) scale(1.085,1)" font-size="53" fill="#0c0c0c" text-anchor="middle" font-weight="normal"  stroke="#fff" stroke-width="1.3" stroke-linejoin="round">260</text>
<line x1="1747.8" y1="2794.3" x2="1747.8" y2="2807.8" stroke="#000000" stroke-width="5.4" />
<line x1="1747.8" y1="1575.3" x2="1747.8" y2="1588.8" stroke="#000000" stroke-width="5.4" />
<line x1="1803.3" y1="2794.3" x2="1803.3" y2="2819.8" stroke="#000000" stroke-width="5.4" />
<line x1="1803.3" y1="1575.3" x2="1803.3" y2="1600.8" stroke="#000000" stroke-width="5.4" />
<text transform="translate(1801.3,2874.3) scale(1.085,1)" font-size="53" fill="#0c0c0c" text-anchor="middle" font-weight="normal"  stroke="#fff" stroke-width="1.3" stroke-linejoin="round">280</text>
<line x1="1858.8" y1="2794.3" x2="1858.8" y2="2807.8" stroke="#000000" stroke-width="5.4" />
<line x1="1858.8" y1="1575.3" x2="1858.8" y2="1588.8" stroke="#000000" stroke-width="5.4" />
<line x1="1914.3" y1="2794.3" x2="1914.3" y2="2819.8" stroke="#000000" stroke-width="5.4" />
<line x1="1914.3" y1="1575.3" x2="1914.3" y2="1600.8" stroke="#000000" stroke-width="5.4" />
<text transform="translate(1912.3,2874.3) scale(1.085,1)" font-size="53" fill="#0c0c0c" text-anchor="middle" font-weight="normal"  stroke="#fff" stroke-width="1.3" stroke-linejoin="round">300</text>
<line x1="220.6" y1="1575.3" x2="249.1" y2="1575.3" stroke="#000000" stroke-width="5.4" />
<line x1="1885.8" y1="1575.3" x2="1914.3" y2="1575.3" stroke="#000000" stroke-width="5.4" />
<text transform="translate(203.0,1590.9) scale(1.085,1)" font-size="53" fill="#0c0c0c" text-anchor="end" font-weight="normal"  stroke="#fff" stroke-width="1.3" stroke-linejoin="round">40</text>
<line x1="233.1" y1="1646.9" x2="249.1" y2="1646.9" stroke="#000000" stroke-width="5.4" />
<line x1="1898.3" y1="1646.9" x2="1914.3" y2="1646.9" stroke="#000000" stroke-width="5.4" />
<line x1="220.6" y1="1718.6" x2="249.1" y2="1718.6" stroke="#000000" stroke-width="5.4" />
<line x1="1885.8" y1="1718.6" x2="1914.3" y2="1718.6" stroke="#000000" stroke-width="5.4" />
<text transform="translate(203.0,1734.2) scale(1.085,1)" font-size="53" fill="#0c0c0c" text-anchor="end" font-weight="normal"  stroke="#fff" stroke-width="1.3" stroke-linejoin="round">35</text>
<line x1="233.1" y1="1790.2" x2="249.1" y2="1790.2" stroke="#000000" stroke-width="5.4" />
<line x1="1898.3" y1="1790.2" x2="1914.3" y2="1790.2" stroke="#000000" stroke-width="5.4" />
<line x1="220.6" y1="1861.8" x2="249.1" y2="1861.8" stroke="#000000" stroke-width="5.4" />
<line x1="1885.8" y1="1861.8" x2="1914.3" y2="1861.8" stroke="#000000" stroke-width="5.4" />
<text transform="translate(203.0,1877.4) scale(1.085,1)" font-size="53" fill="#0c0c0c" text-anchor="end" font-weight="normal"  stroke="#fff" stroke-width="1.3" stroke-linejoin="round">30</text>
<line x1="233.1" y1="1933.4" x2="249.1" y2="1933.4" stroke="#000000" stroke-width="5.4" />
<line x1="1898.3" y1="1933.4" x2="1914.3" y2="1933.4" stroke="#000000" stroke-width="5.4" />
<line x1="220.6" y1="2005.1" x2="249.1" y2="2005.1" stroke="#000000" stroke-width="5.4" />
<line x1="1885.8" y1="2005.1" x2="1914.3" y2="2005.1" stroke="#000000" stroke-width="5.4" />
<text transform="translate(203.0,2020.7) scale(1.085,1)" font-size="53" fill="#0c0c0c" text-anchor="end" font-weight="normal"  stroke="#fff" stroke-width="1.3" stroke-linejoin="round">25</text>
<line x1="233.1" y1="2076.7" x2="249.1" y2="2076.7" stroke="#000000" stroke-width="5.4" />
<line x1="1898.3" y1="2076.7" x2="1914.3" y2="2076.7" stroke="#000000" stroke-width="5.4" />
<line x1="220.6" y1="2148.3" x2="249.1" y2="2148.3" stroke="#000000" stroke-width="5.4" />
<line x1="1885.8" y1="2148.3" x2="1914.3" y2="2148.3" stroke="#000000" stroke-width="5.4" />
<text transform="translate(203.0,2163.9) scale(1.085,1)" font-size="53" fill="#0c0c0c" text-anchor="end" font-weight="normal"  stroke="#fff" stroke-width="1.3" stroke-linejoin="round">20</text>
<line x1="233.1" y1="2219.9" x2="249.1" y2="2219.9" stroke="#000000" stroke-width="5.4" />
<line x1="1898.3" y1="2219.9" x2="1914.3" y2="2219.9" stroke="#000000" stroke-width="5.4" />
<line x1="220.6" y1="2291.6" x2="249.1" y2="2291.6" stroke="#000000" stroke-width="5.4" />
<line x1="1885.8" y1="2291.6" x2="1914.3" y2="2291.6" stroke="#000000" stroke-width="5.4" />
<text transform="translate(203.0,2307.2) scale(1.085,1)" font-size="53" fill="#0c0c0c" text-anchor="end" font-weight="normal"  stroke="#fff" stroke-width="1.3" stroke-linejoin="round">15</text>
<line x1="233.1" y1="2363.2" x2="249.1" y2="2363.2" stroke="#000000" stroke-width="5.4" />
<line x1="1898.3" y1="2363.2" x2="1914.3" y2="2363.2" stroke="#000000" stroke-width="5.4" />
<line x1="220.6" y1="2434.8" x2="249.1" y2="2434.8" stroke="#000000" stroke-width="5.4" />
<line x1="1885.8" y1="2434.8" x2="1914.3" y2="2434.8" stroke="#000000" stroke-width="5.4" />
<text transform="translate(203.0,2450.4) scale(1.085,1)" font-size="53" fill="#0c0c0c" text-anchor="end" font-weight="normal"  stroke="#fff" stroke-width="1.3" stroke-linejoin="round">10</text>
<line x1="233.1" y1="2506.4" x2="249.1" y2="2506.4" stroke="#000000" stroke-width="5.4" />
<line x1="1898.3" y1="2506.4" x2="1914.3" y2="2506.4" stroke="#000000" stroke-width="5.4" />
<line x1="220.6" y1="2578.1" x2="249.1" y2="2578.1" stroke="#000000" stroke-width="5.4" />
<line x1="1885.8" y1="2578.1" x2="1914.3" y2="2578.1" stroke="#000000" stroke-width="5.4" />
<text transform="translate(203.0,2593.7) scale(1.085,1)" font-size="53" fill="#0c0c0c" text-anchor="end" font-weight="normal"  stroke="#fff" stroke-width="1.3" stroke-linejoin="round">5</text>
<line x1="233.1" y1="2649.7" x2="249.1" y2="2649.7" stroke="#000000" stroke-width="5.4" />
<line x1="1898.3" y1="2649.7" x2="1914.3" y2="2649.7" stroke="#000000" stroke-width="5.4" />
<line x1="220.6" y1="2721.3" x2="249.1" y2="2721.3" stroke="#000000" stroke-width="5.4" />
<line x1="1885.8" y1="2721.3" x2="1914.3" y2="2721.3" stroke="#000000" stroke-width="5.4" />
<text transform="translate(203.0,2736.9) scale(1.085,1)" font-size="53" fill="#0c0c0c" text-anchor="end" font-weight="normal"  stroke="#fff" stroke-width="1.3" stroke-linejoin="round">0</text>
<line x1="233.1" y1="2792.9" x2="249.1" y2="2792.9" stroke="#000000" stroke-width="5.4" />
<line x1="1898.3" y1="2792.9" x2="1914.3" y2="2792.9" stroke="#000000" stroke-width="5.4" />
<line x1="1047.9" y1="1841.4" x2="954.8" y2="1973.6" stroke="#ff0000" stroke-width="7" />
<polyline points="954.6,1958.7 953.0,1976.1 968.9,1968.7" fill="none" stroke="#ff0000" stroke-width="7" stroke-linecap="round" stroke-linejoin="miter"/>
<line x1="348.6" y1="2071.4" x2="400.5" y2="2267.9" stroke="#ff0000" stroke-width="7" />
<polyline points="388.9,2258.4 401.2,2270.8 405.8,2253.9" fill="none" stroke="#ff0000" stroke-width="7" stroke-linecap="round" stroke-linejoin="miter"/>
<line x1="635.7" y1="2481.4" x2="552.4" y2="2634.6" stroke="#ff0000" stroke-width="7" />
<polyline points="550.6,2619.7 551.0,2637.2 565.9,2628.1" fill="none" stroke="#ff0000" stroke-width="7" stroke-linecap="round" stroke-linejoin="miter"/>
<line x1="1517.1" y1="2330.0" x2="1217.4" y2="2378.5" stroke="#ff0000" stroke-width="7" />
<polyline points="1228.0,2367.9 1214.4,2379.0 1230.8,2385.2" fill="none" stroke="#ff0000" stroke-width="7" stroke-linecap="round" stroke-linejoin="miter"/>
<text transform="translate(1037.5,1815.0) scale(0.97,1)" font-size="69" fill="#ff0000" text-anchor="middle" font-weight="bold" font-family="Liberation Sans">3</text>
<text transform="translate(348.5,2059.3) scale(0.97,1)" font-size="69" fill="#ff0000" text-anchor="middle" font-weight="bold" font-family="Liberation Sans">2</text>
<text transform="translate(637.1,2455.7) scale(0.97,1)" font-size="69" fill="#ff0000" text-anchor="middle" font-weight="bold" font-family="Liberation Sans">1</text>
<text transform="translate(1585.1,2355.1) scale(0.97,1)" font-size="69" fill="#ff0000" text-anchor="middle" font-weight="bold" font-family="Liberation Sans">4</text>
<text transform="translate(71.0,2932.9) scale(0.97,1)" font-size="78" fill="#000000" text-anchor="start" font-weight="bold" ><tspan dy="-2.3">(</tspan><tspan dy="2.3">b</tspan><tspan dy="-2.3">)</tspan></text>
<text transform="translate(898.2,2977.0) scale(1.011,1)" font-size="60.5" fill="#0a0a0a" text-anchor="start" font-weight="normal"  stroke="#fff" stroke-width="0.6" stroke-linejoin="round">Current (A)</text>
<text transform="translate(78.4,2271.6) rotate(-90) scale(1.012,1)" font-size="60" fill="#0a0a0a" text-anchor="start">Voltage (V)</text>
</g>
</svg>
</body></html>
